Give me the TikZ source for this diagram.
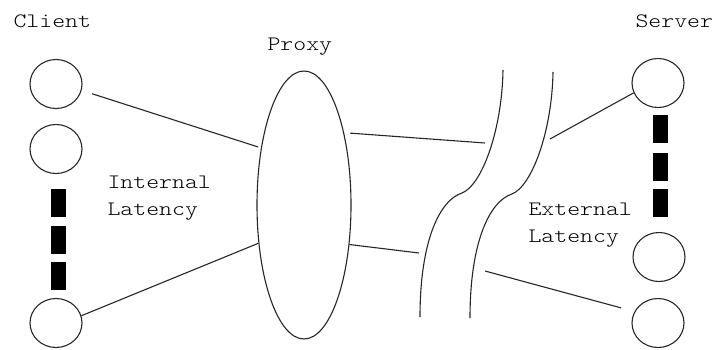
\documentclass[tikz,border=0pt]{standalone}
\usepackage{fontspec}
\newfontfamily\labelfont{lmmonolt10-regular.otf}[FakeStretch=1.2]
\usetikzlibrary{shapes.geometric, positioning}

\begin{document}
\begin{tikzpicture}[
  x=1pt, y=-1pt,
  line width=1.1pt,
  host/.style={draw=black!85, ellipse, minimum width=52pt, minimum height=49pt, inner sep=0pt},
  proxybox/.style={draw=black!85, ellipse, minimum width=94pt, minimum height=268pt, inner sep=0pt},
  dotbar/.style={fill=black, draw=none, minimum width=15pt, minimum height=28pt, inner sep=0pt},
  lbl/.style={font=\labelfont\fontsize{20.5}{27}\selectfont, text=black, inner sep=0pt, align=left},
  link/.style={draw=black!85}
]
\useasboundingbox (0,0) rectangle (714,349);

% clients
\node[lbl, anchor=base west] (clientlbl) at (13,27) {Client};
\node[host] (c1) at (56,84) {};
\node[host] (c2) at (56,149) {};
\node[host] (c3) at (56,323) {};
\node[dotbar] (cb1) at (58,202.5) {};
\node[dotbar] (cb2) at (58,239.5) {};
\node[dotbar] (cb3) at (58,275.5) {};
\node[lbl, anchor=west] (intlbl) at (107,198) {Internal\\Latency};

% proxy
\node[lbl, anchor=base west] (proxylbl) at (267,50) {Proxy};
\node[proxybox] (proxy) at (304,205) {};

% servers
\node[lbl, anchor=base west] (serverlbl) at (635,27) {Server};
\node[host] (s1) at (658,83) {};
\node[host] (s2) at (659,257) {};
\node[host] (s3) at (658,323) {};
\node[dotbar] (sb1) at (660,129) {};
\node[dotbar] (sb2) at (660,166.5) {};
\node[dotbar] (sb3) at (660,202.5) {};
\node[lbl, anchor=west] (extlbl) at (528,225) {External\\Latency};

% network break
\draw[black!85] (503,70) .. controls (502,130) and (482,185) .. (462,193)
  .. controls (440,200) and (420,240) .. (420,317);
\draw[black!85] (553,72) .. controls (552,131) and (532,186) .. (512,194)
  .. controls (490,201) and (470,241) .. (470,318);

\coordinate (b1) at (485,143);
\coordinate (b2) at (419,253);
\coordinate (b3) at (550,139);
\coordinate (b4) at (485,271);

% links
\draw[link, shorten <=11pt, shorten >=3pt] (c1.-14) -- (proxy.127);
\draw[link] (c3.16) -- (proxy.220);
\draw[link, shorten <=6pt] (proxy.61) -- (b1);
\draw[link] (proxy.-41) -- (b2);
\draw[link] (b3) -- (s1.202);
\draw[link, shorten >=14pt] (b4) -- (s3.154);

\end{tikzpicture}
\end{document}
